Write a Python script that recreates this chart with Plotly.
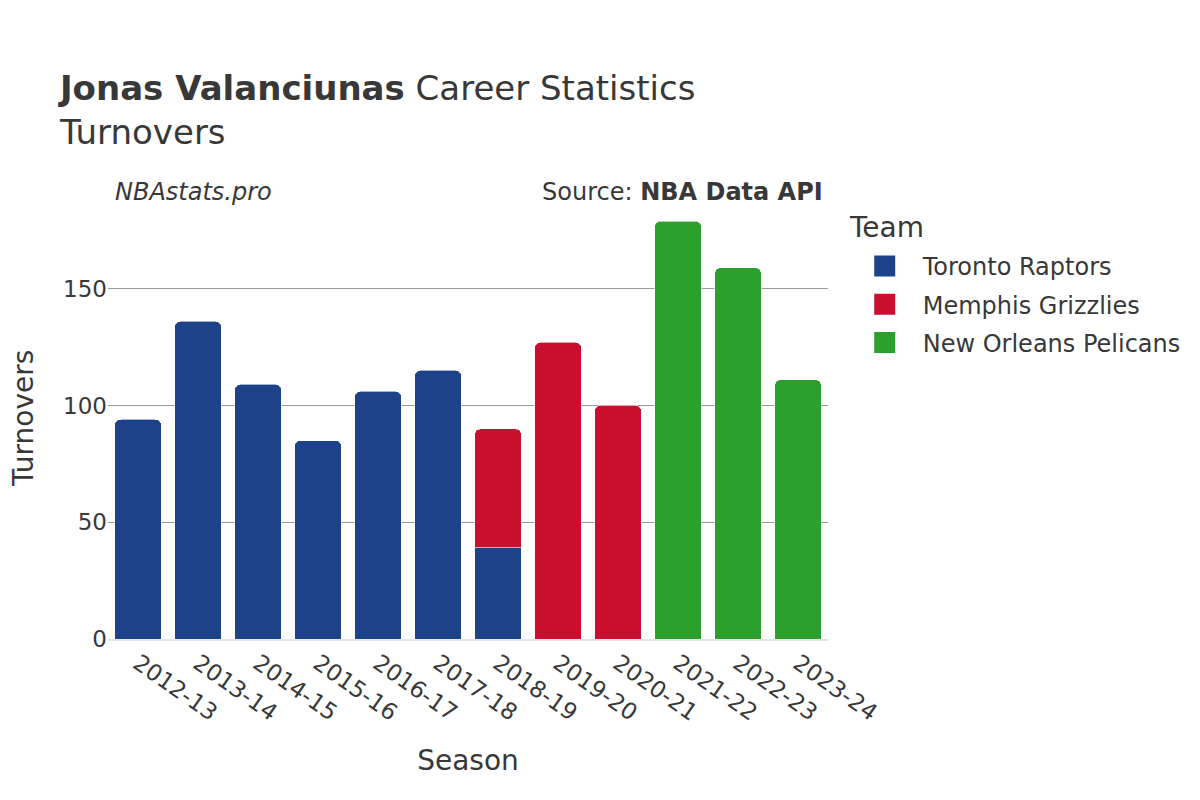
import plotly.graph_objects as go

seasons = ["2012-13", "2013-14", "2014-15", "2015-16", "2016-17", "2017-18",
           "2018-19", "2019-20", "2020-21", "2021-22", "2022-23", "2023-24"]

tor_seasons = ["2012-13", "2013-14", "2014-15", "2015-16", "2016-17", "2017-18", "2018-19"]
tor_values = [94, 136, 109, 85, 106, 115, 39]

mem_seasons = ["2018-19", "2019-20", "2020-21"]
mem_values = [51, 127, 100]

nop_seasons = ["2021-22", "2022-23", "2023-24"]
nop_values = [179, 159, 111]

team_names = ["Toronto Raptors", "Memphis Grizzlies", "New Orleans Pelicans"]
team_colors = ["#1d428a", "#c8102e", "#2ca02c"]
team_x = [tor_seasons, mem_seasons, nop_seasons]
team_y = [tor_values, mem_values, nop_values]

fig = go.Figure()
for name, xs, ys, color in zip(team_names, team_x, team_y, team_colors):
    fig.add_trace(go.Bar(
        x=xs, y=ys, name=name, legendgroup=name, showlegend=False,
        marker=dict(color=color, line=dict(color="rgba(255,255,255,0.6)", width=1)),
    ))
# legend entries with larger symbols
for name, color in zip(team_names, team_colors):
    fig.add_trace(go.Scatter(
        x=[None], y=[None], mode="markers", name=name, legendgroup=name,
        marker=dict(symbol="square", size=16, color=color,
                    line=dict(color=color, width=5)),
    ))

font_family = "DejaVu Sans"
fig.update_layout(
    barmode="stack",
    barcornerradius=6,
    width=1200, height=800,
    font=dict(family=font_family, size=22, color="#383838"),
    paper_bgcolor="white",
    plot_bgcolor="white",
    margin=dict(l=100, r=380, t=191, b=169),
    title=dict(
        text="<b>Jonas Valanciunas</b> Career Statistics<br>Turnovers",
        x=0.0433, xanchor="left", y=0.885, yanchor="top",
        font=dict(size=34, color="#383838"),
    ),
    legend=dict(
        font=dict(size=24),
        traceorder="grouped",
        tracegroupgap=4,
        x=1.026, xanchor="left", y=0.898, yanchor="top",
        itemwidth=66,
    ),
    xaxis=dict(
        title=dict(text="Season", font=dict(size=28), standoff=26),
        categoryorder="array", categoryarray=seasons,
        tickangle=35, tickfont=dict(size=23),
        showgrid=False, linecolor="#e5e5e5", linewidth=2, showline=True,
        automargin=False,
    ),
    yaxis=dict(
        tickfont=dict(size=23),
        autorange=True,
        dtick=50,
        gridcolor="#999", gridwidth=1,
        zeroline=False,
        automargin=False,
    ),
    bargap=0.22,
    annotations=[
        dict(text="<i>NBAstats.pro</i>", x=0.007, xref="paper", y=1.0, yref="paper",
             xanchor="left", yanchor="middle", yshift=7, showarrow=False,
             font=dict(size=24, color="#383838")),
        dict(text="Source: <b>NBA Data API</b>", x=0.996, xref="paper", y=1.0, yref="paper",
             xanchor="right", yanchor="middle", yshift=7, showarrow=False,
             font=dict(size=24, color="#383838")),
        dict(text="Team", x=1.0264, xref="paper", y=0.936, yref="paper",
             xanchor="left", yanchor="middle", showarrow=False,
             font=dict(size=28, color="#383838")),
        dict(text="Turnovers", x=-0.118, xref="paper", y=0.5, yref="paper",
             xanchor="center", yanchor="middle", textangle=-90, showarrow=False,
             font=dict(size=28, color="#383838")),
    ],
)

fig.write_html("out.html")
